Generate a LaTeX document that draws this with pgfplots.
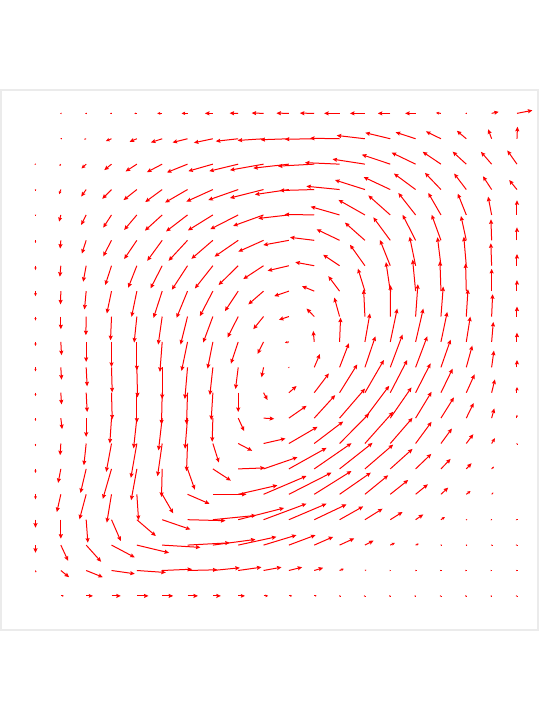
\documentclass[border=0pt]{standalone}
\usepackage{pgfplots}
\usepackage{pgfplotstable}
\pgfplotsset{compat=1.18}
\usetikzlibrary{arrows.meta}

% grid column x, grid row y (0 = bottom), vector u,v in pixels
\pgfplotstableread[row sep=\\]{
x y u v\\
1 19 -0.7 0\\ 2 19 -1 0\\ 3 19 -1.5 0\\ 4 19 -2.5 0\\ 5 19 -5 0\\ 6 19 -6 0\\ 7 19 -8 0\\ 8 19 -8.7 0.2\\ 9 19 -12 0.3\\ 10 19 -12.5 0.2\\ 11 19 -14.5 0.2\\ 12 19 -15.5 0\\ 13 19 -15 0\\ 14 19 -12.5 0\\ 15 19 -10.5 0\\ 16 19 -5 0.5\\ 17 19 -1 0\\ 18 19 7 1.5\\ 19 19 15.5 3\\
1 18 -0.5 0\\ 2 18 -2 -0.5\\ 3 18 -5.7 -2.3\\ 4 18 -7.3 -3\\ 5 18 -11.3 -3.7\\ 6 18 -15 -3.7\\ 7 18 -19 -4\\ 8 18 -22.5 -2.5\\ 9 18 -26 -1.7\\ 10 18 -28.5 -1\\ 11 18 -29.5 -0.5\\ 12 18 -29.7 0.5\\ 13 18 -28.3 3.3\\ 14 18 -25 6\\ 15 18 -20 6.5\\ 16 18 -15 7.3\\ 17 18 -9.5 8\\ 18 18 -3.5 9.5\\ 19 18 0.5 12\\
0 17 -1 -0.3\\ 1 17 -1.3 -1.7\\ 2 17 -4.7 -4.3\\ 3 17 -7.3 -6\\ 4 17 -11.3 -7.3\\ 5 17 -15.3 -8\\ 6 17 -20.7 -8.3\\ 7 17 -24.6 -7\\ 8 17 -29 -7\\ 9 17 -33.7 -6\\ 10 17 -35.7 -4\\ 11 17 -36.5 -2\\ 12 17 -34.7 1.5\\ 13 17 -32.5 5\\ 14 17 -28.5 9.5\\ 15 17 -24 11.5\\ 16 17 -18.3 12.3\\ 17 17 -13.7 12.5\\ 18 17 -10.7 12.3\\ 19 17 -9.7 13.7\\
0 16 0 -1\\ 1 16 -1.7 -4.7\\ 2 16 -5 -7\\ 3 16 -9.3 -9.3\\ 4 16 -13.3 -10.5\\ 5 16 -17 -12.5\\ 6 16 -22.5 -13\\ 7 16 -26.5 -12\\ 8 16 -30 -10.5\\ 9 16 -33.7 -8.5\\ 10 16 -34 -5\\ 11 16 -34.7 -1\\ 12 16 -33.3 3.3\\ 13 16 -30 9.5\\ 14 16 -26.7 12.5\\ 15 16 -21.7 16\\ 16 16 -16 16.7\\ 17 16 -12.2 16\\ 18 16 -8.7 13.3\\ 19 16 -7.8 9.5\\
0 15 0 -1\\ 1 15 -1.7 -6.7\\ 2 15 -5 -10\\ 3 15 -8.3 -12.7\\ 4 15 -12.7 -15\\ 5 15 -17.3 -15.7\\ 6 15 -21.5 -16.5\\ 7 15 -25 -15.5\\ 8 15 -28 -14.3\\ 9 15 -30.5 -11\\ 10 15 -30.7 -3.5\\ 11 15 -29.7 0.5\\ 12 15 -29 8.3\\ 13 15 -26.5 15\\ 14 15 -22 19.5\\ 15 15 -17.3 22\\ 16 15 -12.7 22\\ 17 15 -8.5 21.3\\ 18 15 -3.5 18.3\\ 19 15 0 14.7\\
0 14 0 -2.5\\ 1 14 -0.7 -8.3\\ 2 14 -4.3 -13.3\\ 3 14 -8.3 -16\\ 4 14 -12.7 -18.7\\ 5 14 -15 -20.5\\ 6 14 -19 -20.5\\ 7 14 -21.5 -18.5\\ 8 14 -23.7 -16.3\\ 9 14 -25.3 -11.3\\ 10 14 -25.7 -4.7\\ 11 14 -24.3 3\\ 12 14 -23 11\\ 13 14 -20 17.7\\ 14 14 -17 23\\ 15 14 -13 25.5\\ 16 14 -9.3 25.5\\ 17 14 -5.3 24.3\\ 18 14 -0.7 21\\ 19 14 0 13\\
0 13 0 -4.3\\ 1 13 -1 -11\\ 2 13 -3 -16\\ 3 13 -6.3 -19.3\\ 4 13 -8.7 -22\\ 5 13 -11.7 -22.7\\ 6 13 -15.7 -24\\ 7 13 -18 -22.7\\ 8 13 -19.7 -19.3\\ 9 13 -20.3 -13.3\\ 10 13 -21.3 -5\\ 11 13 -19 3.5\\ 12 13 -16.5 11\\ 13 13 -15 21\\ 14 13 -10.3 25.7\\ 15 13 -6 29\\ 16 13 -3.5 28.5\\ 17 13 -2.5 29\\ 18 13 -0.8 22.5\\ 19 13 0 11.7\\
0 12 0 -5\\ 1 12 -0.3 -13.3\\ 2 12 -1.7 -18.3\\ 3 12 -4.7 -22.3\\ 4 12 -5.3 -25.7\\ 5 12 -8.7 -26.7\\ 6 12 -11 -26.7\\ 7 12 -13 -25\\ 8 12 -13.3 -20\\ 9 12 -15.3 -13.3\\ 10 12 -14.7 -5\\ 11 12 -12.3 5\\ 12 12 -11.3 15\\ 13 12 -7 22.5\\ 14 12 -4.3 29\\ 15 12 -3 31.5\\ 16 12 -1 30\\ 17 12 -0.7 27.7\\ 18 12 0 22.3\\ 19 12 0 11\\
0 11 0 -4\\ 1 11 0 -12.7\\ 2 11 -0.3 -18.7\\ 3 11 -1 -23.7\\ 4 11 -2.7 -26\\ 5 11 -4 -28\\ 6 11 -7 -28\\ 7 11 -9.7 -26\\ 8 11 -10.7 -21\\ 9 11 -10.3 -12.7\\ 10 11 -10 -3.3\\ 11 11 -7.7 8\\ 12 11 -5.3 19\\ 13 11 -1.3 27\\ 14 11 0.3 31.3\\ 15 11 2.3 32.3\\ 16 11 2.3 30\\ 17 11 1.7 27.3\\ 18 11 1 22.3\\ 19 11 0 10\\
0 10 0 -4\\ 1 10 0.7 -13.3\\ 2 10 0 -20\\ 3 10 0 -25\\ 4 10 0 -28.3\\ 5 10 -2.3 -30\\ 6 10 -6 -29\\ 7 10 -5.3 -26.7\\ 8 10 -7.3 -21.7\\ 9 10 -6 -12\\ 10 10 -4 -0.7\\ 11 10 -1 11\\ 12 10 1 24.3\\ 13 10 5 28.5\\ 14 10 7 33.3\\ 15 10 7.7 33.3\\ 16 10 6.3 30\\ 17 10 4 25.3\\ 18 10 1.7 20\\ 19 10 0 9.3\\
0 9 0 -4\\ 1 9 0.7 -12.3\\ 2 9 1 -19\\ 3 9 0.7 -25\\ 4 9 0.7 -30\\ 5 9 0 -31.7\\ 6 9 -2.7 -31.7\\ 7 9 -3 -27.7\\ 8 9 -2.7 -21.7\\ 9 9 -2 -10\\ 10 9 0.5 0.5\\ 11 9 5.7 13.3\\ 12 9 9.3 24\\ 13 9 10.5 31\\ 14 9 12.3 32.7\\ 15 9 11.7 31\\ 16 9 9.7 27.7\\ 17 9 6 21.7\\ 18 9 2.3 16.7\\ 19 9 0 7.3\\
0 8 0 -3.3\\ 1 8 0.7 -11.7\\ 2 8 1 -19.3\\ 3 8 0.7 -26.7\\ 4 8 0 -30\\ 5 8 -0.7 -31.7\\ 6 8 -1 -31.7\\ 7 8 -1.7 -27.3\\ 8 8 0 -19.3\\ 9 8 4 -7.3\\ 10 8 7.7 6.7\\ 11 8 14.7 19.3\\ 12 8 17.7 28.3\\ 13 8 19 32.7\\ 14 8 17 32.7\\ 15 8 15 29.3\\ 16 8 11.7 24\\ 17 8 8.3 18.3\\ 18 8 3.3 13.3\\ 19 8 0 5.7\\
0 7 0 -2.7\\ 1 7 1.3 -11\\ 2 7 0 -18.7\\ 3 7 -1.7 -25.3\\ 4 7 -3.3 -30.3\\ 5 7 -3.7 -32.3\\ 6 7 -2.5 -30.7\\ 7 7 -0.7 -23.7\\ 8 7 6 -13\\ 9 7 10.7 -0.7\\ 10 7 17.7 12.3\\ 11 7 21 23\\ 12 7 25.5 29.5\\ 13 7 24.3 32.3\\ 14 7 21.3 30.7\\ 15 7 16 26.3\\ 16 7 13 20.7\\ 17 7 7.3 15\\ 18 7 2.7 9.7\\ 19 7 0 3.3\\
0 6 0 -2.7\\ 1 6 -0.7 -11.7\\ 2 6 -2.3 -21.7\\ 3 6 -5.3 -28.3\\ 4 6 -6 -34.3\\ 5 6 -4.7 -32.7\\ 6 6 -1 -27.7\\ 7 6 6 -19\\ 8 6 14 -7.3\\ 9 6 22 5\\ 10 6 28.7 16.7\\ 11 6 29 22\\ 12 6 29.7 30\\ 13 6 28.3 31.7\\ 14 6 22.3 25.7\\ 15 6 16 21.7\\ 16 6 11 15\\ 17 6 7 9.3\\ 18 6 3.3 5.3\\ 19 6 0 0.5\\
0 5 0 -4\\ 1 5 -2.7 -14\\ 2 5 -5.7 -24\\ 3 5 -8.7 -30\\ 4 5 -5.7 -31.3\\ 5 5 -0.7 -28\\ 6 5 7.3 -20.7\\ 7 5 18 -11.7\\ 8 5 26.7 1\\ 9 5 34 11.7\\ 10 5 37.7 21\\ 11 5 37.3 25.7\\ 12 5 33 26\\ 13 5 28.3 24.3\\ 14 5 22.3 20\\ 15 5 15.7 15\\ 16 5 9.7 10\\ 17 5 5.3 5.7\\ 18 5 2.3 2.3\\
0 4 0 -5\\ 1 4 -4 -17.7\\ 2 4 -6.7 -25\\ 3 4 -4.7 -28.3\\ 4 4 1.7 -25.7\\ 5 4 11 -19\\ 6 4 22 -9.5\\ 7 4 33.7 0\\ 8 4 39.3 9\\ 9 4 43 18.3\\ 10 4 42.7 21.7\\ 11 4 37.3 23.3\\ 12 4 31.3 21.7\\ 13 4 23.3 19\\ 14 4 18 14.3\\ 15 4 12.3 10\\ 16 4 7.3 6.7\\ 17 4 4.3 3.3\\ 18 4 1.7 1.7\\
0 3 0 -8\\ 1 3 0 -19\\ 2 3 1.7 -23\\ 3 3 9.3 -21.3\\ 4 3 19 -16.3\\ 5 3 28.3 -9.7\\ 6 3 38 -1\\ 7 3 43.3 4.3\\ 8 3 46 11.7\\ 9 3 43 16\\ 10 3 37.7 16\\ 11 3 32.3 15.3\\ 12 3 23.7 13.3\\ 13 3 17.7 11\\ 14 3 12.3 7.7\\ 15 3 7.7 5.3\\ 16 3 4 2.7\\ 17 3 1 0.3\\ 18 3 0.5 0\\ 19 3 0.3 0\\
0 2 0 -7.7\\ 1 2 7.3 -15.7\\ 2 2 15 -16.7\\ 3 2 23.3 -12.3\\ 4 2 32.3 -7.7\\ 5 2 38.3 -2.3\\ 6 2 42.3 2.3\\ 7 2 42.7 5.7\\ 8 2 38.3 8.3\\ 9 2 33 10\\ 10 2 26.7 10\\ 11 2 19 8.3\\ 12 2 14.7 6.7\\ 13 2 8.7 4.5\\ 14 2 4.7 2.3\\ 15 2 3.3 1.3\\ 16 2 1 0\\ 17 2 1 0\\ 18 2 1 0\\ 19 2 0.3 0\\
0 1 0.5 -2\\ 1 1 8.3 -6.7\\ 2 1 16.7 -6.7\\ 3 1 23.3 -3.3\\ 4 1 29 -2\\ 5 1 30 1.3\\ 6 1 30 0.7\\ 7 1 27 2.7\\ 8 1 23.3 3.3\\ 9 1 18 3.3\\ 10 1 13.3 3.3\\ 11 1 9 2.7\\ 12 1 4.3 1.7\\ 13 1 1.5 0.7\\ 14 1 0.7 0\\ 15 1 1 0\\ 16 1 0.3 0\\ 17 1 0.3 0\\ 18 1 0.3 0\\ 19 1 0.3 0\\
1 0 3 0\\ 2 0 6.7 0\\ 3 0 9.3 0\\ 4 0 11.7 0\\ 5 0 11 0\\ 6 0 10.5 0\\ 7 0 8 0\\ 8 0 6.7 0\\ 9 0 4.7 0\\ 10 0 3.3 0\\ 11 0 2.3 0\\ 12 0 1 0\\ 13 0 0.3 0\\ 14 0 0.3 0\\ 15 0 0.3 0\\ 16 0 0.3 0\\ 17 0 0.3 0\\ 18 0 0.3 0\\ 19 0 0.3 0\\
}\cavity

\begin{document}
\begin{tikzpicture}
\path[use as bounding box] (0,0) rectangle (540pt,720pt);
\begin{axis}[
    at={(1pt,90pt)}, anchor=south west,
    scale only axis,
    width=537pt, height=540pt,
    xmin=-1.361, xmax=19.83,
    ymin=-1.343, ymax=19.92,
    xtick=\empty, ytick=\empty,
    axis line style={draw=black!8, line width=1.2pt},
    clip=false,
]
% arrow length in px as point meta, so short arrows get small heads
\addplot[red, line width=1pt,
    point meta={veclen(\thisrow{u},\thisrow{v})},
    point meta min=0, point meta max=1000,
    quiver={u=\thisrow{u}, v=\thisrow{v}, scale arrows=0.0394,
      every arrow/.append style={
        -{Stealth[length={max(1.4,min(4.5,0.6*\pgfplotspointmetatransformed))*1pt},
                  width={max(1.4,min(4,0.55*\pgfplotspointmetatransformed))*1pt},
                  inset=0.6pt]},
        line width={max(0.6,min(1,0.35*\pgfplotspointmetatransformed))*1pt}}}]
    table[x=x, y=y] {\cavity};
\end{axis}
\end{tikzpicture}
\end{document}
